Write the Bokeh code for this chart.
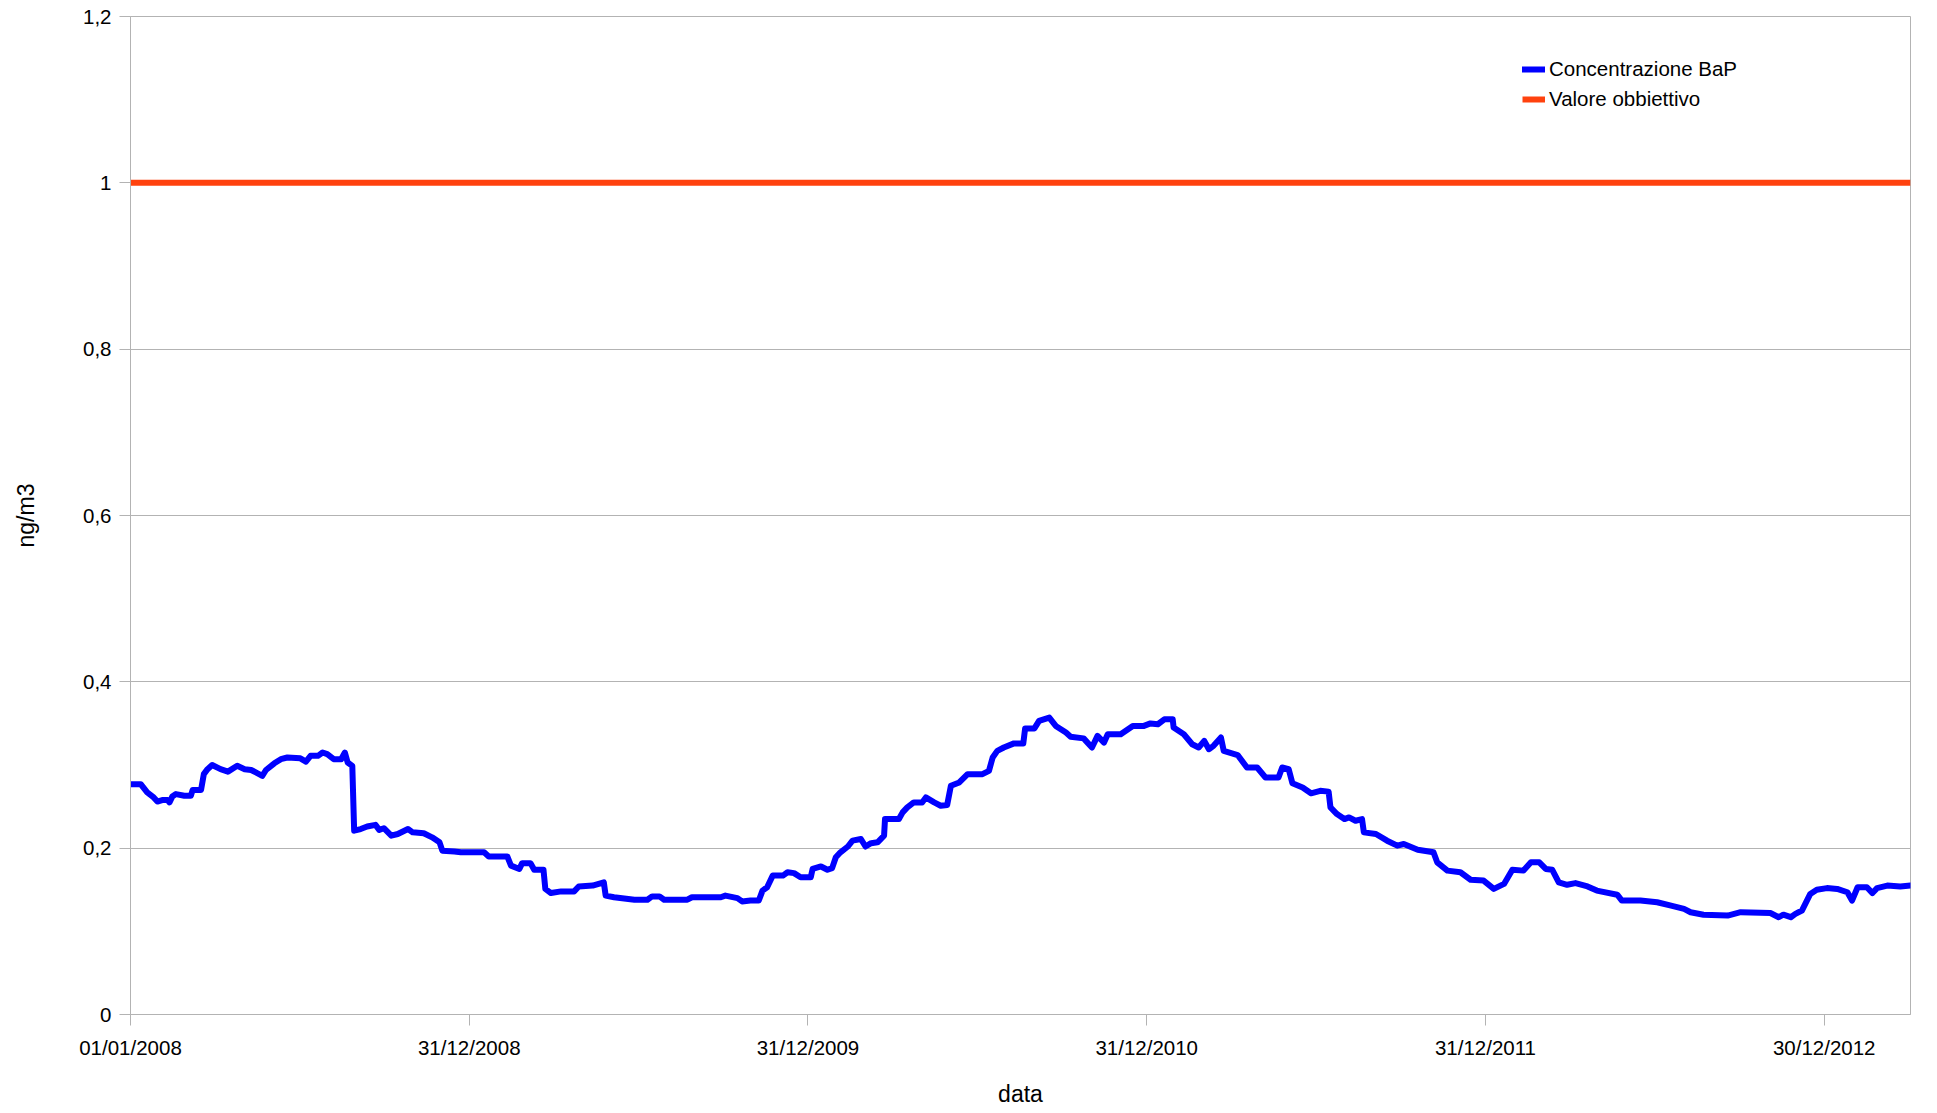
import pandas as pd
from bokeh.plotting import figure
from bokeh.models import Range1d, FixedTicker, CustomJSTickFormatter, Legend, LegendItem
from bokeh.embed import file_html
from bokeh.resources import INLINE

# ---------------- data ----------------
start_date = "2008-01-01"
last_day = 1918  # days after start_date where the series ends

bap_days = [0, 11, 18, 25, 29, 35, 40, 42, 45, 49, 58, 65, 67, 76, 79, 83, 88, 97, 105, 115,
            123, 130, 137, 142, 146, 155, 162, 169, 183, 189, 194, 202, 207, 212, 219, 227, 231, 234, 239, 241,
            248, 255, 264, 268, 273, 281, 288, 299, 304, 316, 325, 333, 336, 349, 356, 381, 386, 406, 410, 419,
            422, 431, 435, 445, 447, 453, 464, 478, 483, 498, 510, 512, 521, 543, 557, 562, 570, 575, 600, 605,
            636, 641, 654, 659, 668, 677, 681, 686, 692, 703, 708, 715, 722, 733, 735, 744, 751, 756, 760, 765,
            773, 778, 787, 792, 798, 805, 812, 813, 828, 832, 837, 844, 853, 857, 866, 873, 880, 884, 893, 902,
            918, 925, 929, 934, 941, 952, 962, 964, 974, 979, 990, 997, 1008, 1013, 1027, 1036, 1042, 1049, 1053, 1067,
            1080, 1092, 1099, 1107, 1114, 1123, 1124, 1135, 1144, 1151, 1157, 1162, 1167, 1175, 1178, 1193, 1203, 1214, 1223, 1237,
            1241, 1248, 1252, 1263, 1272, 1282, 1291, 1293, 1300, 1308, 1313, 1320, 1327, 1329, 1342, 1354, 1365, 1372, 1387, 1404,
            1408, 1419, 1433, 1444, 1458, 1469, 1480, 1489, 1501, 1509, 1518, 1525, 1532, 1539, 1548, 1557, 1570, 1580, 1602, 1607,
            1627, 1645, 1660, 1674, 1681, 1695, 1721, 1735, 1767, 1776, 1781, 1789, 1794, 1801, 1810, 1817, 1828, 1839, 1850, 1855,
            1861, 1871, 1877, 1882, 1893, 1907, 1918]

bap_values = [0.277, 0.277, 0.267, 0.261, 0.256, 0.258, 0.258, 0.255, 0.262, 0.265, 0.263, 0.263, 0.270, 0.270, 0.289, 0.295, 0.300, 0.295, 0.292, 0.299,
              0.295, 0.294, 0.290, 0.287, 0.294, 0.302, 0.307, 0.309, 0.308, 0.304, 0.311, 0.311, 0.315, 0.313, 0.307, 0.307, 0.315, 0.303, 0.299, 0.221,
              0.223, 0.226, 0.228, 0.222, 0.224, 0.215, 0.217, 0.223, 0.219, 0.218, 0.213, 0.207, 0.197, 0.196, 0.195, 0.195, 0.190, 0.190, 0.179, 0.175,
              0.182, 0.182, 0.174, 0.174, 0.151, 0.146, 0.148, 0.148, 0.154, 0.155, 0.159, 0.143, 0.141, 0.138, 0.138, 0.142, 0.142, 0.138, 0.138, 0.141,
              0.141, 0.143, 0.140, 0.136, 0.137, 0.137, 0.149, 0.153, 0.167, 0.167, 0.171, 0.170, 0.165, 0.165, 0.175, 0.178, 0.174, 0.176, 0.189, 0.195,
              0.202, 0.209, 0.211, 0.202, 0.206, 0.207, 0.215, 0.235, 0.235, 0.243, 0.249, 0.255, 0.255, 0.261, 0.255, 0.251, 0.252, 0.275, 0.279, 0.289,
              0.289, 0.293, 0.309, 0.317, 0.321, 0.326, 0.326, 0.344, 0.344, 0.353, 0.357, 0.347, 0.339, 0.334, 0.332, 0.321, 0.335, 0.327, 0.337, 0.337,
              0.347, 0.347, 0.350, 0.349, 0.355, 0.355, 0.345, 0.337, 0.325, 0.321, 0.329, 0.319, 0.323, 0.333, 0.317, 0.312, 0.297, 0.297, 0.285, 0.285,
              0.297, 0.295, 0.278, 0.273, 0.266, 0.269, 0.268, 0.249, 0.241, 0.235, 0.237, 0.233, 0.235, 0.219, 0.217, 0.209, 0.203, 0.205, 0.198, 0.195,
              0.183, 0.173, 0.171, 0.162, 0.161, 0.151, 0.157, 0.174, 0.173, 0.183, 0.183, 0.175, 0.174, 0.159, 0.156, 0.158, 0.154, 0.149, 0.144, 0.137,
              0.137, 0.135, 0.131, 0.127, 0.123, 0.120, 0.119, 0.123, 0.122, 0.117, 0.120, 0.117, 0.121, 0.125, 0.145, 0.150, 0.152, 0.151, 0.147, 0.137,
              0.153, 0.153, 0.146, 0.152, 0.155, 0.154, 0.155]

obiettivo_value = 1.0

x_tick_labels = ["01/01/2008", "31/12/2008", "31/12/2009", "31/12/2010", "31/12/2011", "30/12/2012"]
y_ticks = [0, 0.2, 0.4, 0.6, 0.8, 1.0, 1.2]

series_names = ["Concentrazione BaP", "Valore obbiettivo"]
x_title = "data"
y_title = "ng/m3"

# ---------------- build ----------------
t0 = pd.Timestamp(start_date)
bap_dates = t0 + pd.to_timedelta(bap_days, unit="D")
t_end = t0 + pd.to_timedelta(last_day, unit="D")
tick_dates = pd.to_datetime(x_tick_labels, format="%d/%m/%Y")
tick_ms = [float(d.value // 10**6) for d in tick_dates]

FONT = "Liberation Sans"
GRID = "#b3b3b3"
W, H = 1936, 1110

p = figure(width=W, height=H, x_axis_type="datetime",
           output_backend="svg", toolbar_location=None,
           x_range=Range1d(t0, t_end), y_range=Range1d(0, 1.2),
           min_border_left=130, min_border_right=W - 1910, min_border_top=16, min_border_bottom=H - 1014)

p.background_fill_color = "white"
p.border_fill_color = "white"
p.outline_line_color = GRID
p.outline_line_width = 1

p.xgrid.visible = False
p.ygrid.grid_line_color = GRID
p.ygrid.grid_line_width = 1

p.yaxis.ticker = FixedTicker(ticks=y_ticks)
p.yaxis.formatter = CustomJSTickFormatter(
    code="return (Math.round(tick*10)/10).toString().replace('.', ',');")
p.xaxis.ticker = FixedTicker(ticks=tick_ms)
p.xaxis.formatter = CustomJSTickFormatter(args=dict(tvals=tick_ms, tlabels=x_tick_labels), code="""
let best = 0;
for (let i = 0; i < tvals.length; i++) {
  if (Math.abs(tvals[i] - tick) < Math.abs(tvals[best] - tick)) best = i;
}
return tlabels[best];
""")

for ax in (p.xaxis[0], p.yaxis[0]):
    ax.axis_line_color = GRID
    ax.major_tick_line_color = GRID
    ax.major_tick_out = 11
    ax.major_tick_in = 0
    ax.minor_tick_line_color = None
    ax.major_label_text_font = FONT
    ax.major_label_text_font_size = "20.5px"
    ax.major_label_text_color = "black"
    ax.axis_label_text_font = FONT
    ax.axis_label_text_font_size = "23px"
    ax.axis_label_text_font_style = "normal"
    ax.axis_label_text_color = "black"

p.xaxis.axis_label = x_title
p.yaxis.axis_label = y_title
p.xaxis.major_label_standoff = 10
p.yaxis.major_label_standoff = 8
p.xaxis.axis_label_standoff = 19
p.yaxis.axis_label_standoff = 41

r_obj = p.line(x=[t0, t_end], y=[obiettivo_value, obiettivo_value],
               line_color="#ff420e", line_width=6)
r_bap = p.line(x=bap_dates, y=bap_values, line_color="#0000ff", line_width=6,
               line_join="round", line_cap="round")

legend = Legend(items=[LegendItem(label=series_names[0], renderers=[r_bap]),
                       LegendItem(label=series_names[1], renderers=[r_obj])],
                location=(1392, 903), padding=0, margin=0, spacing=6,
                glyph_width=23, glyph_height=24, label_height=24, label_standoff=4,
                label_text_font=FONT, label_text_font_size="20.5px", label_text_color="black",
                border_line_color=None, background_fill_alpha=0)
p.add_layout(legend)

open("out.html", "w").write(file_html(p, INLINE))
